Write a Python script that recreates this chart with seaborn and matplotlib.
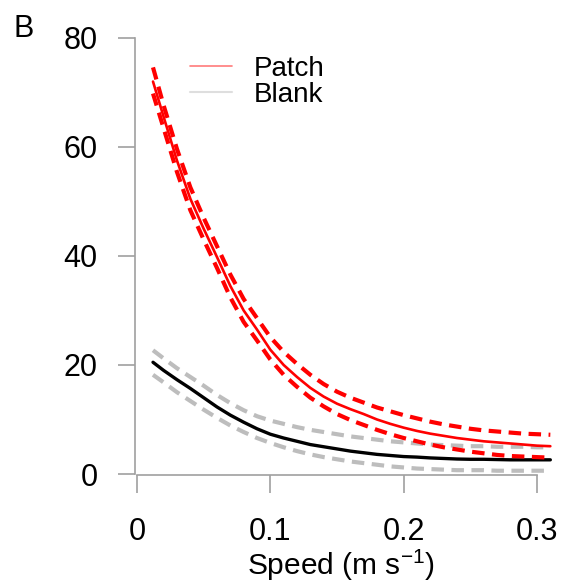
import numpy as np
import pandas as pd
import seaborn as sns
import matplotlib.pyplot as plt
from matplotlib.lines import Line2D

sns.set_style("white")
plt.rcParams['font.family'] = ['Liberation Sans', 'DejaVu Sans']
plt.rcParams['mathtext.default'] = 'regular'
plt.rcParams['text.color'] = 'black'
plt.rcParams['xtick.labelcolor'] = 'black'
plt.rcParams['ytick.labelcolor'] = 'black'

# speed (m s-1)
speed = [0.012, 0.02, 0.03, 0.04, 0.05, 0.06, 0.07, 0.08, 0.09, 0.10,
         0.11, 0.12, 0.13, 0.14, 0.15, 0.16, 0.17, 0.18, 0.19, 0.20,
         0.21, 0.22, 0.23, 0.24, 0.25, 0.26, 0.27, 0.28, 0.29, 0.30, 0.31]

patch_mid = [72.0, 65.5, 57.5, 50.5, 45.0, 39.8, 34.5, 30.0, 26.5, 22.8,
             20.0, 17.8, 15.8, 14.2, 12.9, 11.9, 11.0, 10.0, 9.2, 8.5,
             7.9, 7.4, 7.0, 6.6, 6.3, 6.0, 5.8, 5.6, 5.4, 5.2, 5.1]
patch_hi = [74.6, 67.6, 59.6, 52.6, 47.0, 41.8, 36.6, 32.1, 28.6, 25.1,
            22.4, 20.2, 18.2, 16.5, 15.1, 14.0, 13.1, 12.2, 11.5, 10.8,
            10.2, 9.6, 9.1, 8.7, 8.3, 8.0, 7.8, 7.6, 7.4, 7.3, 7.2]
patch_lo = [69.8, 63.4, 55.4, 48.4, 43.0, 37.8, 32.4, 27.9, 24.5, 21.0,
            18.2, 16.0, 14.0, 12.4, 11.0, 9.9, 9.0, 8.1, 7.3, 6.6,
            6.0, 5.4, 4.9, 4.5, 4.1, 3.8, 3.5, 3.3, 3.2, 3.1, 3.0]

blank_mid = [20.5, 19.0, 17.3, 15.7, 14.0, 12.3, 10.8, 9.5, 8.3, 7.3,
             6.6, 6.0, 5.4, 5.0, 4.6, 4.2, 3.9, 3.6, 3.4, 3.2,
             3.1, 2.95, 2.85, 2.75, 2.7, 2.7, 2.65, 2.6, 2.6, 2.6, 2.6]
blank_hi = [22.7, 21.2, 19.4, 17.8, 16.2, 14.5, 13.0, 11.7, 10.6, 9.8,
            9.2, 8.6, 8.1, 7.7, 7.3, 6.9, 6.6, 6.3, 6.0, 5.8,
            5.6, 5.4, 5.3, 5.2, 5.1, 5.1, 5.0, 5.0, 5.0, 4.9, 4.9]
blank_lo = [18.2, 16.8, 15.0, 13.4, 11.8, 10.3, 8.9, 7.7, 6.6, 5.7,
            4.9, 4.2, 3.6, 3.1, 2.7, 2.3, 2.0, 1.7, 1.4, 1.2,
            1.0, 0.9, 0.8, 0.7, 0.7, 0.7, 0.6, 0.6, 0.6, 0.6, 0.6]

xticks = [0, 0.1, 0.2, 0.3]
xticklabels = ['0', '0.1', '0.2', '0.3']
yticks = [0, 20, 40, 60, 80]
yticklabels = ['0', '20', '40', '60', '80']

W, H = 566, 586
fig = plt.figure(figsize=(W / 100, H / 100), dpi=100)
ax = fig.add_axes([137 / W, (H - 474) / H, 420 / W, 441.5 / H])

dash = (0, (3, 1.8))
grey = '#bdbdbd'
sns.lineplot(x=speed, y=blank_hi, ax=ax, color=grey, lw=3, linestyle=dash)
sns.lineplot(x=speed, y=blank_lo, ax=ax, color=grey, lw=3, linestyle=dash)
sns.lineplot(x=speed, y=blank_mid, ax=ax, color='black', lw=2.4)
sns.lineplot(x=speed, y=patch_hi, ax=ax, color='red', lw=3, linestyle=dash)
sns.lineplot(x=speed, y=patch_lo, ax=ax, color='red', lw=3, linestyle=dash)
sns.lineplot(x=speed, y=patch_mid, ax=ax, color='red', lw=1.9)

ax.set_xlim(0, 0.315)
ax.set_ylim(0, 81)
ax.set_xticks(xticks, xticklabels)
ax.set_yticks(yticks, yticklabels)

for s in ['top', 'right']:
    ax.spines[s].set_visible(False)
ax.spines['left'].set_position(('outward', 1.5))
ax.spines['bottom'].set_position(('outward', 1))
ax.spines['left'].set_bounds(0, 80)
ax.spines['bottom'].set_bounds(0, 0.3)
for s in ['left', 'bottom']:
    ax.spines[s].set_color('#a0a0a0')
    ax.spines[s].set_linewidth(1.2)
ax.tick_params(axis='y', length=12, width=1.2, color='#a0a0a0', pad=15,
               labelsize=22, left=True)
ax.tick_params(axis='x', length=13, width=1.2, color='#a0a0a0', pad=17,
               labelsize=22, bottom=True)

handles = [Line2D([], [], color='#ff7a7a', lw=1.2),
           Line2D([], [], color='#dedede', lw=1.5)]
ax.legend(handles, ['Patch', 'Blank'], frameon=False, fontsize=20,
          loc='upper left', bbox_to_anchor=(176 / W, 1 - 42 / H),
          bbox_transform=fig.transFigure, handlelength=1.5,
          handletextpad=0.8, labelspacing=0.0, borderpad=0)

fig.text(341 / W, 1 - 575 / H, 'Speed (m s$^{-1}$)', ha='center',
         va='baseline', fontsize=21.5)
fig.text(14 / W, 1 - 37 / H, 'B', ha='left', va='baseline', fontsize=22)

fig.savefig('out.png', dpi=100)
